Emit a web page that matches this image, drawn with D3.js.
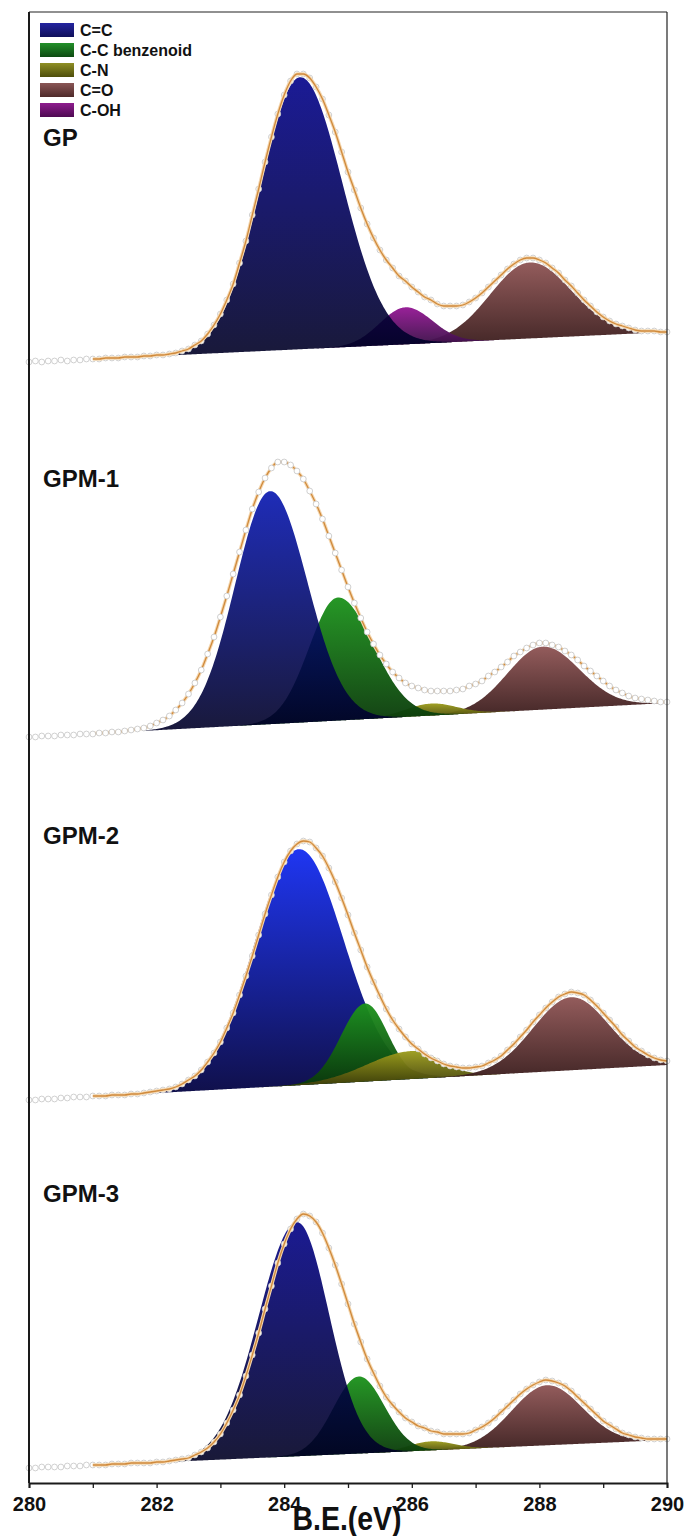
<!DOCTYPE html>
<html>
<head>
<meta charset="utf-8">
<script src="https://cdn.jsdelivr.net/npm/d3@7"></script>
<style>
  html, body { margin: 0; padding: 0; background: #fff; }
  svg { display: block; font-family: "Liberation Sans", Arial, Helvetica, sans-serif; }
</style>
</head>
<body>
<svg id="chart" width="688" height="1536"></svg>
<script>
// ---- C 1s spectra: binding-energy grid of the measured points (eV) ----
const beStart = 280.0;
const beStep = 0.1;

const panels = ["GP", "GPM-1", "GPM-2", "GPM-3"];
// stacking offset of each spectrum (a.u.)
const panelOffset = [112.1, 74.6, 38.3, 1.5];
// linear background at 280 eV and at 290 eV (a.u., above the offset)
const bgStart = [0, 0, 0, 0];
const bgEnd = [3.0, 3.4, 3.5, 2.8];

// measured intensities, 280.0 -> 290.0 eV every 0.1 eV (a.u.)
const dataGP = [
  0.0, 0.1, 0.0, 0.1, 0.1, 0.2, 0.1, 0.2, 0.2, 0.3,
  0.3, 0.3, 0.4, 0.4, 0.4, 0.5, 0.5, 0.5, 0.6, 0.6,
  0.7, 0.7, 0.8, 0.9, 1.1, 1.3, 1.7, 2.1, 2.8, 3.7,
  4.8, 6.2, 7.8, 9.9, 12.1, 14.7, 17.3, 20.0, 22.5, 24.8,
  26.7, 28.1, 28.8, 28.8, 28.4, 27.5, 26.3, 24.7, 23.0, 21.0,
  19.0, 17.2, 15.4, 13.8, 12.4, 11.2, 10.2, 9.4, 8.6, 8.1,
  7.5, 7.0, 6.5, 6.2, 5.8, 5.6, 5.6, 5.6, 5.7, 6.0,
  6.4, 6.9, 7.5, 8.1, 8.7, 9.3, 9.8, 10.2, 10.4, 10.4,
  10.2, 9.9, 9.4, 8.9, 8.2, 7.6, 6.9, 6.2, 5.6, 5.0,
  4.5, 4.1, 3.8, 3.6, 3.4, 3.2, 3.1, 3.1, 3.1, 3.0,
  3.0
];
const dataGPM1 = [
  0.0, 0.0, 0.1, 0.1, 0.1, 0.2, 0.2, 0.2, 0.3, 0.3,
  0.3, 0.4, 0.4, 0.5, 0.5, 0.6, 0.7, 0.8, 0.9, 1.1,
  1.4, 1.7, 2.1, 2.7, 3.4, 4.3, 5.4, 6.7, 8.3, 10.0,
  12.0, 14.1, 16.3, 18.5, 20.7, 22.8, 24.5, 25.9, 26.9, 27.5,
  27.5, 27.2, 26.6, 25.8, 24.6, 23.3, 21.8, 20.1, 18.4, 16.7,
  15.0, 13.4, 11.9, 10.5, 9.3, 8.2, 7.3, 6.5, 5.9, 5.4,
  5.1, 4.9, 4.7, 4.6, 4.6, 4.6, 4.6, 4.7, 4.8, 5.1,
  5.3, 5.6, 6.1, 6.5, 7.0, 7.5, 8.1, 8.5, 8.9, 9.2,
  9.4, 9.4, 9.2, 9.0, 8.6, 8.2, 7.7, 7.1, 6.6, 6.1,
  5.6, 5.1, 4.7, 4.4, 4.1, 3.9, 3.8, 3.7, 3.6, 3.5,
  3.5
];
const dataGPM2 = [
  0.0, 0.0, 0.1, 0.1, 0.1, 0.2, 0.2, 0.3, 0.3, 0.3,
  0.4, 0.4, 0.4, 0.5, 0.5, 0.5, 0.6, 0.6, 0.7, 0.8,
  0.9, 1.0, 1.1, 1.3, 1.6, 2.0, 2.4, 3.0, 3.8, 4.7,
  5.8, 7.2, 8.7, 10.5, 12.4, 14.4, 16.5, 18.6, 20.5, 22.3,
  23.8, 24.9, 25.6, 25.9, 25.8, 25.2, 24.4, 23.2, 21.8, 20.2,
  18.5, 16.7, 15.0, 13.3, 11.8, 10.4, 9.1, 8.0, 7.1, 6.3,
  5.6, 5.1, 4.6, 4.2, 3.9, 3.6, 3.4, 3.3, 3.2, 3.2,
  3.3, 3.4, 3.7, 4.0, 4.4, 5.0, 5.6, 6.3, 7.0, 7.8,
  8.5, 9.2, 9.8, 10.3, 10.6, 10.8, 10.7, 10.5, 10.0, 9.4,
  8.7, 8.0, 7.3, 6.5, 5.9, 5.3, 4.9, 4.5, 4.2, 4.0,
  3.9
];
const dataGPM3 = [
  0.0, 0.0, 0.1, 0.1, 0.1, 0.1, 0.2, 0.2, 0.2, 0.3,
  0.3, 0.3, 0.3, 0.4, 0.4, 0.4, 0.5, 0.5, 0.5, 0.5,
  0.6, 0.6, 0.7, 0.8, 0.9, 1.0, 1.3, 1.6, 2.0, 2.6,
  3.4, 4.5, 5.8, 7.3, 9.2, 11.3, 13.5, 15.9, 18.2, 20.5,
  22.4, 23.9, 24.9, 25.4, 25.2, 24.6, 23.5, 22.0, 20.3, 18.4,
  16.4, 14.4, 12.6, 10.9, 9.5, 8.2, 7.1, 6.3, 5.6, 5.0,
  4.6, 4.2, 4.0, 3.7, 3.6, 3.4, 3.4, 3.4, 3.4, 3.5,
  3.8, 4.1, 4.5, 5.0, 5.6, 6.2, 6.8, 7.4, 7.9, 8.3,
  8.6, 8.8, 8.7, 8.5, 8.2, 7.7, 7.1, 6.5, 5.9, 5.3,
  4.7, 4.3, 3.9, 3.5, 3.3, 3.1, 3.0, 2.9, 2.9, 2.9,
  2.9
];

// fitted peak components (listed in drawing order):
// centre (eV), height above background (a.u.), left / right width sigma (eV)
const gpType   = ["C=O", "C-OH", "C=C"];
const gpCenter = [287.85, 285.90, 284.25];
const gpHeight = [7.6, 3.7, 27.2];
const gpSigL   = [0.62, 0.40, 0.62];
const gpSigR   = [0.65, 0.42, 0.66];

const m1Type   = ["C=O", "C-N", "C-C benzenoid", "C=C"];
const m1Center = [288.05, 286.30, 284.84, 283.78];
const m1Height = [6.3, 1.2, 12.3, 23.3];
const m1SigL   = [0.55, 0.40, 0.45, 0.55];
const m1SigR   = [0.58, 0.40, 0.55, 0.58];

const m2Type   = ["C=C", "C-C benzenoid", "C-N", "C=O"];
const m2Center = [284.23, 285.27, 286.00, 288.50];
const m2Height = [23.6, 7.8, 2.8, 7.3];
const m2SigL   = [0.70, 0.38, 0.70, 0.60];
const m2SigR   = [0.70, 0.35, 0.45, 0.58];

const m3Type   = ["C=O", "C-N", "C-C benzenoid", "C=C"];
const m3Center = [288.12, 286.30, 285.17, 284.20];
const m3Height = [6.0, 0.9, 7.7, 23.4];
const m3SigL   = [0.55, 0.35, 0.40, 0.60];
const m3SigR   = [0.55, 0.35, 0.40, 0.50];

// legend entries
const legendLabels = ["C=C", "C-C benzenoid", "C-N", "C=O", "C-OH"];

// x-axis ticks
const tickValues = [280, 281, 282, 283, 284, 285, 286, 287, 288, 289, 290];
const tickLabels = ["280", "", "282", "", "284", "", "286", "", "288", "", "290"];

// ---- styling ----
const fillColors = {
  "C-C benzenoid": ["#1d931d", "#0a380a"],
  "C-N":           ["#9c9c1c", "#383808"],
  "C=O":           ["#8f5555", "#3c1e1e"],
  "C-OH":          ["#941894", "#321040"]
};
// C=C shading per sample (top, foot) and its opacity over the smaller peaks
const blueByPanel = [["#02028a", "#000024"], ["#0615b0", "#000026"], ["#1f36f2", "#10104a"], ["#020286", "#000022"]];
const blueOpacity = [0.9, 0.9, 1.0, 0.9];
const swatchColors = {
  "C=C":           ["#2424a0", "#10105a"],
  "C-C benzenoid": ["#23902a", "#0e4a12"],
  "C-N":           ["#8f8f25", "#4e4e0c"],
  "C=O":           ["#8a5656", "#4e2a2a"],
  "C-OH":          ["#8e1c8e", "#4e0a52"]
};
const lineUnderPoints = [false, true, false, false];
const labelBaseline = [146, 487, 844, 1202];

const W = 688, H = 1536;
const margin = { top: 12, right: 21, bottom: 53, left: 29 };
const innerBottom = H - margin.bottom;

const svg = d3.select("#chart");
const defs = svg.append("defs");

const x = d3.scaleLinear().domain([280, 290]).range([margin.left, W - margin.right]);
const y = d3.scaleLinear().domain([0, 147.1]).range([innerBottom, margin.top]);

const dataSets = [dataGP, dataGPM1, dataGPM2, dataGPM3];
const compSets = [
  { type: gpType, center: gpCenter, height: gpHeight, sigL: gpSigL, sigR: gpSigR },
  { type: m1Type, center: m1Center, height: m1Height, sigL: m1SigL, sigR: m1SigR },
  { type: m2Type, center: m2Center, height: m2Height, sigL: m2SigL, sigR: m2SigR },
  { type: m3Type, center: m3Center, height: m3Height, sigL: m3SigL, sigR: m3SigR }
];

function peak(E, c, h, sl, sr) {
  const s = E < c ? sl : sr;
  const t = (E - c) / s;
  return h * Math.exp(-0.5 * t * t);
}

const plot = svg.append("g");

panels.forEach((name, p) => {
  const off = panelOffset[p];
  const bg = E => bgStart[p] + (bgEnd[p] - bgStart[p]) * (E - 280) / 10;
  const g = plot.append("g").attr("class", "panel");
  const cs = compSets[p];

  // component fills, each shaded from its top to its foot
  cs.type.forEach((type, j) => {
    const gid = `grad-${p}-${j}`;
    const isMain = type === "C=C";
    const cols = isMain ? blueByPanel[p] : fillColors[type];
    const lg = defs.append("linearGradient").attr("id", gid)
      .attr("x1", 0).attr("y1", 0).attr("x2", 0).attr("y2", 1);
    lg.append("stop").attr("offset", "0%").attr("stop-color", cols[0]);
    lg.append("stop").attr("offset", "100%").attr("stop-color", cols[1]);

    const c = cs.center[j], h = cs.height[j], sl = cs.sigL[j], sr = cs.sigR[j];
    const lo = Math.max(280, c - 3.6 * sl), hi = Math.min(290, c + 3.6 * sr);
    const pts = d3.range(lo, hi + 1e-9, 0.02).map(E => ({ E, b: bg(E), v: peak(E, c, h, sl, sr) }));
    const area = d3.area()
      .x(d => x(d.E))
      .y0(d => y(off + d.b))
      .y1(d => y(off + d.b + d.v));
    g.append("path").datum(pts)
      .attr("d", area)
      .attr("fill", `url(#${gid})`)
      .attr("fill-opacity", isMain ? blueOpacity[p] : 0.96);
  });

  // measured points and envelope
  const pts = dataSets[p].map((v, i) => ({ E: +(beStart + i * beStep).toFixed(2), v }));
  const linePts = pts.filter(d => d.E >= 281);
  const line = d3.line().x(d => x(d.E)).y(d => y(off + d.v)).curve(d3.curveMonotoneX);

  const drawLine = () => {
    g.append("path").datum(linePts).attr("d", line)
      .attr("fill", "none").attr("stroke", "#f4d7b0").attr("stroke-width", 3.4);
    g.append("path").datum(linePts).attr("d", line)
      .attr("fill", "none").attr("stroke", "#d08a3c").attr("stroke-width", 1.3);
  };
  const drawPoints = () => {
    g.append("g").selectAll("circle").data(pts).join("circle")
      .attr("cx", d => x(d.E)).attr("cy", d => y(off + d.v)).attr("r", 2.9)
      .attr("fill", "#fff").attr("stroke", "#c4c4c4").attr("stroke-width", 0.8);
  };
  if (lineUnderPoints[p]) { drawLine(); drawPoints(); } else { drawPoints(); drawLine(); }

  // sample name
  svg.append("text")
    .attr("x", 43).attr("y", labelBaseline[p])
    .attr("font-size", 24).attr("font-weight", "bold").attr("fill", "#111")
    .text(name);
});

// frame
svg.append("line").attr("x1", margin.left).attr("x2", W - margin.right)
  .attr("y1", margin.top).attr("y2", margin.top).attr("stroke", "#222").attr("stroke-width", 1.2);
svg.append("line").attr("x1", W - margin.right).attr("x2", W - margin.right)
  .attr("y1", margin.top).attr("y2", innerBottom).attr("stroke", "#222").attr("stroke-width", 1.2);
svg.append("line").attr("x1", margin.left).attr("x2", margin.left)
  .attr("y1", margin.top).attr("y2", innerBottom).attr("stroke", "#1a1a1a").attr("stroke-width", 2);

// bottom axis
const axis = d3.axisBottom(x).tickValues(tickValues).tickSize(5)
  .tickFormat((d, i) => tickLabels[i]);
const ax = svg.append("g").attr("transform", `translate(0,${innerBottom})`).call(axis);
ax.select(".domain").attr("stroke", "#1a1a1a").attr("stroke-width", 2);
ax.selectAll(".tick line").attr("stroke", "#1a1a1a").attr("stroke-width", 1.3);
ax.selectAll(".tick text")
  .attr("y", 28).attr("dy", 0)
  .attr("font-size", 20).attr("font-weight", "bold").attr("fill", "#111")
  .attr("font-family", "\"Liberation Sans\", Arial, sans-serif");

svg.append("text")
  .attr("x", 347).attr("y", 1530).attr("text-anchor", "middle")
  .attr("font-size", 34).attr("font-weight", "bold").attr("fill", "#111")
  .attr("textLength", 109).attr("lengthAdjust", "spacingAndGlyphs")
  .text("B.E.(eV)");

// legend
const legend = svg.append("g");
legendLabels.forEach((lab, i) => {
  const cy = 30 + i * 20;
  const gid = `sw-${i}`;
  const lg = defs.append("linearGradient").attr("id", gid)
    .attr("x1", 0).attr("y1", 0).attr("x2", 0).attr("y2", 1);
  lg.append("stop").attr("offset", "0%").attr("stop-color", swatchColors[lab][0]);
  lg.append("stop").attr("offset", "100%").attr("stop-color", swatchColors[lab][1]);
  legend.append("rect").attr("x", 40).attr("y", cy - 7).attr("width", 34).attr("height", 14)
    .attr("fill", `url(#${gid})`);
  legend.append("text").attr("x", 80).attr("y", cy + 5.5)
    .attr("font-size", 16).attr("font-weight", "bold").attr("fill", "#111")
    .text(lab);
});
</script>
</body>
</html>
